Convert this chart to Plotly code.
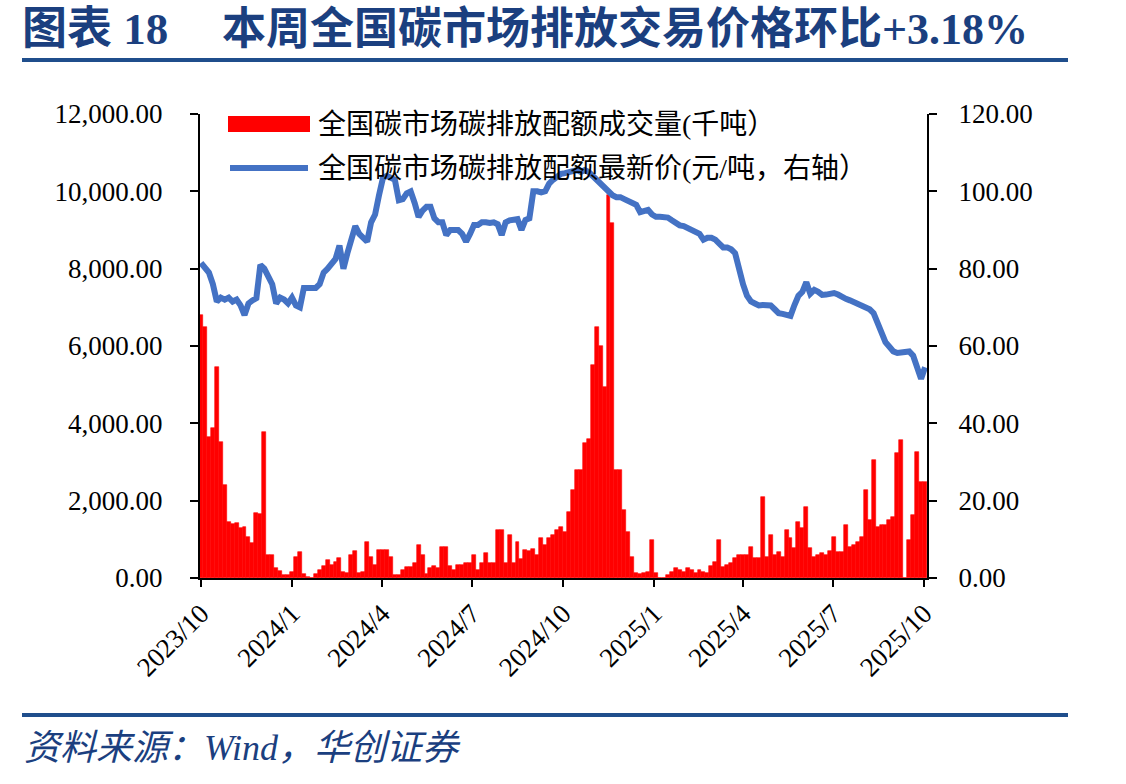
import pandas as pd
import plotly.graph_objects as go

dates = pd.date_range("2023-10-01", periods=184, freq="4D")

volume = [
    6800, 6500, 3650, 3880, 5460, 3520, 2400, 1450, 1400, 1420,
    1300, 1320, 1060, 900, 1680, 1650, 3780, 600, 600, 250,
    170, 80, 80, 150, 550, 670, 100, 20, 0, 100,
    200, 300, 460, 340, 420, 510, 150, 120, 600, 700,
    130, 160, 940, 550, 330, 720, 720, 720, 550, 80,
    80, 200, 290, 290, 380, 850, 590, 100, 270, 300,
    270, 800, 800, 300, 210, 340, 340, 380, 400, 590,
    210, 400, 640, 390, 390, 1240, 1240, 390, 1110, 390,
    930, 500, 720, 700, 750, 600, 1030, 850, 1030, 1100,
    1240, 1320, 1190, 1700, 2280, 2790, 2790, 3490, 3600, 5510,
    6490, 6000, 4940, 9900, 9180, 2790, 2790, 1760, 1200, 550,
    130, 100, 130, 150, 980, 130, 0, 0, 80, 150,
    250, 200, 160, 250, 200, 130, 200, 150, 130, 300,
    420, 980, 290, 330, 400, 510, 590, 590, 590, 800,
    510, 510, 2100, 550, 1110, 600, 670, 550, 1240, 1030,
    780, 1450, 1300, 1840, 780, 550, 600, 650, 590, 700,
    1060, 670, 670, 1370, 800, 850, 930, 1060, 2280, 1500,
    3050, 1320, 1370, 1370, 1500, 1580, 3230, 3570, 0, 980,
    1630, 3260, 2480, 2480,
]

price = [
    81.5, 80.5, 79, 76, 71.5, 72.5, 72, 72.5, 71.5, 72,
    70.5, 68, 71, 71.8, 72.4, 81, 80, 78, 76, 71,
    72.5, 72, 71, 72.5, 70.5, 70, 75, 75, 75, 75,
    76, 79, 80, 81.5, 82.5, 86, 80, 84, 87, 91,
    89, 88, 87, 92, 94, 99, 103.5, 104, 103.5, 103,
    97.7, 98, 99.5, 100, 97, 93.4, 95, 96, 96, 93,
    92, 92, 88.7, 90, 90, 90, 89, 87, 89, 91.3,
    91.3, 92, 92, 91.8, 92, 91.5, 88.7, 92, 92.5, 92.5,
    92.8, 90, 92.6, 93, 100, 100, 99.7, 100, 102, 103,
    104, 104.5, 104.7, 105, 105.5, 105.5, 105, 105.5, 105, 104,
    102.5, 102, 101, 100, 99, 98.5, 98.5, 98, 97.5, 97,
    96.5, 94.6, 95, 95.2, 94, 93.4, 93.4, 93.4, 93.2, 92.5,
    91.8, 91.2, 91, 90.5, 90, 89.5, 89, 87.5, 88, 88,
    87.5, 86.5, 85.5, 85.5, 85, 84, 79.6, 76, 73, 71.5,
    71, 70.5, 70.6, 70.6, 70.5, 69.5, 68.5, 68.3, 68, 67.8,
    70.6, 73, 74, 76.5, 73.5, 74.5, 74, 73.2, 73.3, 73.5,
    73.7, 73.3, 72.6, 72.2, 71.8, 71.4, 70.8, 70.3, 69.8, 69.5,
    68.5, 66, 63.4, 61, 59.8, 58.6, 58.2, 58.3, 58.2, 58.6,
    57.5, 53.8, 51.5, 54.5,
]

tick_dates = ["2023-10-01", "2024-01-01", "2024-04-01", "2024-07-01", "2024-10-01",
              "2025-01-01", "2025-04-01", "2025-07-01", "2025-10-01"]
tick_text = ["2023/10", "2024/1", "2024/4", "2024/7", "2024/10",
             "2025/1", "2025/4", "2025/7", "2025/10"]

title_left = "图表 18"
title_right = "本周全国碳市场排放交易价格环比+3.18%"
legend_bar = "全国碳市场碳排放配额成交量(千吨）"
legend_line = "全国碳市场碳排放配额最新价(元/吨，右轴）"
source_text = "资料来源：Wind，华创证券"

# ---- styles ----
W, H = 1126, 784
L, R, T, B = 200, 927, 114, 578
NAVY = "#1B3F7F"
SERIF = "Liberation Serif, Noto Sans CJK SC, serif"
CJK = "Liberation Serif, Noto Sans CJK SC"


def px(x):
    return (x - L) / (R - L)


def py(y):
    return (B - y) / (B - T)


fig = go.Figure()
fig.add_trace(go.Bar(
    x=dates, y=volume, name=legend_bar,
    marker=dict(color="#FF0000", line=dict(color="#FF0000", width=0.6)),
    width=4 * 86400000, yaxis="y",
))
fig.add_trace(go.Scatter(
    x=dates, y=price, name=legend_line, mode="lines",
    line=dict(color="#4472C4", width=6), yaxis="y2",
))

fig.update_layout(
    width=W, height=H,
    margin=dict(l=L, r=W - R, t=T, b=H - B),
    plot_bgcolor="white", paper_bgcolor="white",
    showlegend=False, bargap=0,
    font=dict(family=SERIF, size=27, color="black"),
    xaxis=dict(
        type="date", range=["2023-09-30", "2025-10-04"],
        tickvals=tick_dates, ticktext=tick_text, tickangle=-45,
        showline=True, linecolor="black", linewidth=2,
        ticks="outside", ticklen=7, tickwidth=2, tickcolor="black",
        showgrid=False, zeroline=False,
        tickfont=dict(family=SERIF, size=27),
    ),
    yaxis=dict(
        range=[0, 12000], dtick=2000, tickformat=",.2f",
        showline=True, linecolor="black", linewidth=2,
        ticks="outside", ticklen=8, tickwidth=2, tickcolor="black",
        showgrid=False, zeroline=False, ticklabelstandoff=22,
        tickfont=dict(family=SERIF, size=27),
    ),
    yaxis2=dict(
        range=[0, 120], dtick=20, tickformat=".2f", overlaying="y", side="right",
        showline=True, linecolor="black", linewidth=2,
        ticks="outside", ticklen=8, tickwidth=2, tickcolor="black",
        showgrid=False, zeroline=False, ticklabelstandoff=16,
        tickfont=dict(family=SERIF, size=27),
    ),
)

shapes = [
    # header / footer rules
    dict(type="line", xref="paper", yref="paper", x0=px(22), x1=px(1068), y0=py(60), y1=py(60),
         line=dict(color="#1F4E8C", width=4)),
    dict(type="line", xref="paper", yref="paper", x0=px(22), x1=px(1068), y0=py(715), y1=py(715),
         line=dict(color="#1F4E8C", width=4)),
    # legend swatches
    dict(type="rect", xref="paper", yref="paper", x0=px(228), x1=px(310), y0=py(132), y1=py(116),
         fillcolor="#FF0000", line=dict(width=0)),
    dict(type="line", xref="paper", yref="paper", x0=px(230), x1=px(308), y0=py(168), y1=py(168),
         line=dict(color="#4472C4", width=6)),
]

annotations = [
    dict(text=f"<b>{title_left}</b>", xref="paper", yref="paper", x=px(20), y=py(29),
         xanchor="left", yanchor="middle", showarrow=False,
         font=dict(family=CJK, size=45, color=NAVY)),
    dict(text=f"<b>{title_right}</b>", xref="paper", yref="paper", x=px(220), y=py(29),
         xanchor="left", yanchor="middle", showarrow=False,
         font=dict(family=CJK, size=44, color=NAVY)),
    dict(text=legend_bar, xref="paper", yref="paper", x=px(316), y=py(125),
         xanchor="left", yanchor="middle", showarrow=False,
         font=dict(family=CJK, size=28, color="black")),
    dict(text=legend_line, xref="paper", yref="paper", x=px(316), y=py(168),
         xanchor="left", yanchor="middle", showarrow=False,
         font=dict(family=CJK, size=28, color="black")),
    dict(text=f"<i>{source_text}</i>", xref="paper", yref="paper", x=px(22), y=py(748),
         xanchor="left", yanchor="middle", showarrow=False,
         font=dict(family=CJK, size=36, color=NAVY, style="italic")),
]

fig.update_layout(shapes=shapes, annotations=annotations)
fig.write_html("out.html")
